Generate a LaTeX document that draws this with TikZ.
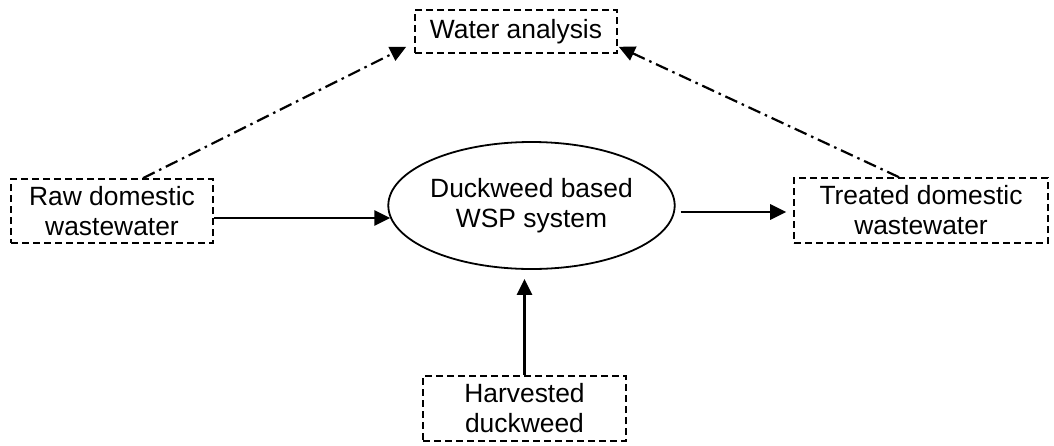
\documentclass[tikz,border=0pt]{standalone}
\usepackage{fontspec}
\setmainfont{Liberation Sans}
\usetikzlibrary{arrows.meta,shapes.geometric,calc}
\begin{document}
\begin{tikzpicture}[x=1pt,y=-1pt,
  txt/.style={align=center,font=\fontsize{26.4}{30}\selectfont,inner sep=0pt},
  box/.style={txt,draw,dash pattern=on 7pt off 4pt,line width=1.6pt},
  arr/.style={line width=2.8pt,-{Triangle[length=16pt,width=15pt]}},
  dd/.style={line width=2.2pt,dash pattern=on 13pt off 5pt on 2.5pt off 5pt,-{Triangle[length=16pt,width=15pt]}}
]
\useasboundingbox (0,0) rectangle (1054,445);
\node[box,minimum width=202pt,minimum height=43pt] (wa) at (516,31.5) {Water analysis};
\node[box,minimum width=202pt,minimum height=64pt] (raw) at (112,211) {Raw domestic\\wastewater};
\node[box,minimum width=254pt,minimum height=65pt] (tr) at (921,210.5) {Treated domestic\\wastewater};
\node[box,minimum width=203pt,minimum height=65pt] (hv) at (524.5,408.5) {Harvested\\duckweed};
\node[txt,ellipse,draw,line width=1.8pt,minimum width=273pt,minimum height=127pt] (ell) at (531.5,205.5) {Duckweed based\\WSP system};
\coordinate (a1) at ($(raw.east)+(0,7)$);
\draw[arr] (a1) -- ($(a1 -| ell.west)+(3,0)$);
\coordinate (a2) at ($(tr.west)+(-7,1.5)$);
\draw[arr] ($(a2 -| ell.east)+(5,0)$) -- (a2);
\draw[arr] (hv.north) -- ($(hv.north |- ell.south)+(0,9)$);
\draw[dd] ($(raw.north)+(31,0)$) -- ($(wa.south west)+(-8,-7)$);
\draw[dd] ($(tr.north)+(-22,0)$) -- ($(wa.south east)+(1,-7)$);
\end{tikzpicture}
\end{document}
